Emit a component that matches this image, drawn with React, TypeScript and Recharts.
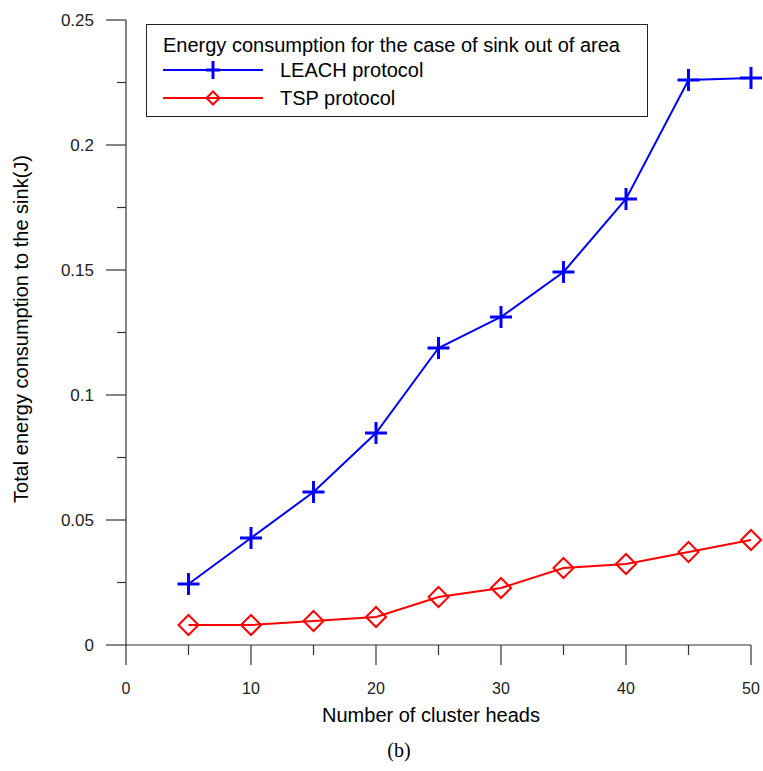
import { LineChart, Line, XAxis, YAxis, Legend } from 'recharts';

const clusterHeads = [5, 10, 15, 20, 25, 30, 35, 40, 45, 50];
const leachEnergy = [0.0244, 0.0428, 0.0612, 0.0848, 0.1188, 0.1312, 0.1492, 0.1784, 0.226, 0.2268];
const tspEnergy = [0.008, 0.008, 0.0096, 0.0112, 0.0192, 0.0228, 0.0308, 0.0324, 0.0372, 0.042];

const xTicks = [0, 5, 10, 15, 20, 25, 30, 35, 40, 45, 50];
const xMajor = [0, 10, 20, 30, 40, 50];
const yTicks = [0, 0.025, 0.05, 0.075, 0.1, 0.125, 0.15, 0.175, 0.2, 0.225, 0.25];
const yMajor = ['0', '0.05', '0.1', '0.15', '0.2', '0.25'];

const legendTitle = 'Energy consumption for the case of sink out of area';
const leachName = 'LEACH protocol';
const tspName = 'TSP protocol';

const data = clusterHeads.map((x, i) => ({ x, leach: leachEnergy[i], tsp: tspEnergy[i] }));

const BLUE = '#0000ff';
const RED = '#ff0000';
const AXIS = '#333';
const FONT = '"Liberation Sans", Arial, sans-serif';

function PlusDot(props: any) {
  const { cx, cy, w = 11, h = 11 } = props;
  if (cx == null || cy == null) return null;
  return (
    <g>
      <line x1={cx - w} y1={cy} x2={cx + w} y2={cy} stroke={BLUE} strokeWidth={3} />
      <line x1={cx} y1={cy - h} x2={cx} y2={cy + h} stroke={BLUE} strokeWidth={3} />
    </g>
  );
}

function DiamondDot(props: any) {
  const { cx, cy, size = 10 } = props;
  if (cx == null || cy == null) return null;
  const s = size;
  return (
    <path
      d={`M${cx},${cy - s} L${cx + s},${cy} L${cx},${cy + s} L${cx - s},${cy} Z`}
      fill="none"
      stroke={RED}
      strokeWidth={2}
    />
  );
}

function YTick(props: any) {
  const { x, y, payload } = props;
  const v = payload.value as number;
  const label = yMajor.find((s) => Math.abs(parseFloat(s) - v) < 1e-9);
  const len = label ? 20 : 9;
  return (
    <g>
      <line x1={x - len} y1={y} x2={x} y2={y} stroke={AXIS} strokeWidth={1.2} />
      {label && (
        <text x={x - 32} y={y} textAnchor="end" dominantBaseline="central" fontSize={17} fill="#222" fontFamily={FONT}>
          {label}
        </text>
      )}
    </g>
  );
}

function XTick(props: any) {
  const { x, y, payload } = props;
  const v = payload.value as number;
  const major = xMajor.includes(v);
  const len = major ? 20 : 10;
  return (
    <g>
      <line x1={x} y1={y} x2={x} y2={y + len} stroke={AXIS} strokeWidth={1.2} />
      {major && (
        <text x={x} y={y + 43} textAnchor="middle" dominantBaseline="central" fontSize={16} fill="#222" fontFamily={FONT}>
          {v}
        </text>
      )}
    </g>
  );
}

function LegendBox() {
  return (
    <div
      style={{
        width: 502,
        height: 93,
        border: '1px solid #222',
        background: '#fff',
        boxSizing: 'border-box',
        position: 'relative',
      }}
    >
      <svg width={500} height={91} style={{ position: 'absolute', left: 0, top: 0 }}>
        <text x={16} y={27} fontSize={20} fill="#000" fontFamily={FONT}>
          {legendTitle}
        </text>
        <line x1={16} y1={45} x2={116} y2={45} stroke={BLUE} strokeWidth={2} />
        <PlusDot cx={66} cy={45} w={7} h={9} />
        <text x={133} y={52} fontSize={20} fill="#000" fontFamily={FONT}>
          {leachName}
        </text>
        <line x1={16} y1={73} x2={116} y2={73} stroke={RED} strokeWidth={2} />
        <DiamondDot cx={66} cy={73} size={6.5} />
        <text x={133} y={80} fontSize={20} fill="#000" fontFamily={FONT}>
          {tspName}
        </text>
      </svg>
    </div>
  );
}

export default function App() {
  return (
    <div style={{ position: 'absolute', left: 0, top: 0, width: 763, height: 771, background: '#fff' }}>
      <LineChart width={763} height={771} data={data} margin={{ top: 20, right: 12, left: 0, bottom: 0 }}>
        <XAxis
          dataKey="x"
          type="number"
          domain={[0, 50]}
          ticks={xTicks}
          interval={0}
          height={126}
          tickSize={0}
          tickMargin={0}
          tickLine={false}
          axisLine={{ stroke: AXIS, strokeWidth: 1.2 }}
          tick={<XTick />}
          label={{
            content: () => (
              <text x={431} y={722} textAnchor="middle" fontSize={20} fill="#000" fontFamily={FONT}>
                Number of cluster heads
              </text>
            ),
          }}
        />
        <YAxis
          type="number"
          domain={[0, 0.25]}
          ticks={yTicks}
          interval={0}
          width={126}
          tickSize={0}
          tickMargin={0}
          tickLine={false}
          axisLine={{ stroke: AXIS, strokeWidth: 1.2 }}
          tick={<YTick />}
          label={{
            content: () => (
              <text
                x={28}
                y={329}
                transform="rotate(-90 28 329)"
                textAnchor="middle"
                fontSize={20}
                fill="#000"
                fontFamily={FONT}
              >
                Total energy consumption to the sink(J)
              </text>
            ),
          }}
        />
        <Legend
          verticalAlign="middle"
          align="center"
          layout="horizontal"
          content={() => <LegendBox />}
          wrapperStyle={{ position: 'absolute', left: 146, top: 24, width: 502, height: 93 }}
        />
        <Line
          dataKey="leach"
          name={leachName}
          stroke={BLUE}
          strokeWidth={2}
          dot={<PlusDot />}
          activeDot={false}
          isAnimationActive={false}
        />
        <Line
          dataKey="tsp"
          name={tspName}
          stroke={RED}
          strokeWidth={2}
          dot={<DiamondDot />}
          activeDot={false}
          isAnimationActive={false}
        />
      </LineChart>
      <div
        style={{
          position: 'absolute',
          left: 0,
          width: 798,
          top: 739,
          textAlign: 'center',
          fontFamily: '"Liberation Serif", "Times New Roman", serif',
          fontSize: 20,
          color: '#000',
        }}
      >
        (b)
      </div>
    </div>
  );
}
